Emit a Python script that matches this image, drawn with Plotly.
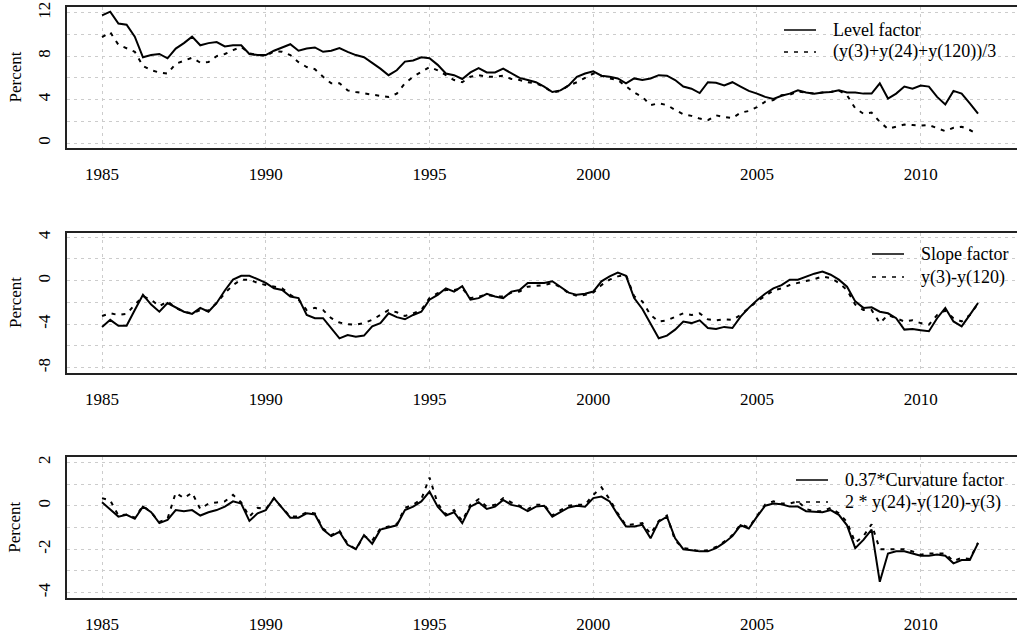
import plotly.graph_objects as go

# quarterly observation dates, 1985Q1 .. 2011Q4
dates = [1985 + q / 4 for q in range(108)]

level_factor = [
    11.75, 12.1, 11.0, 10.9, 9.8, 7.9, 8.1, 8.2, 7.8, 8.7, 9.2, 9.8,
    9.0, 9.2, 9.3, 8.9, 9.0, 9.0, 8.2, 8.1, 8.1, 8.5, 8.8, 9.1,
    8.5, 8.7, 8.8, 8.4, 8.5, 8.75, 8.4, 8.1, 7.9, 7.4, 6.85, 6.25,
    6.7, 7.5, 7.6, 7.9, 7.8, 7.2, 6.4, 6.25, 5.9, 6.5, 6.9, 6.5,
    6.5, 6.85, 6.4, 6.0, 5.8, 5.6, 5.2, 4.7, 4.85, 5.3, 6.1, 6.4,
    6.6, 6.2, 6.1, 5.95, 5.5, 5.95, 5.8, 5.95, 6.25, 6.2, 5.8, 5.2,
    5.0, 4.6, 5.6, 5.55, 5.3, 5.6, 5.2, 4.8, 4.55, 4.25, 4.05, 4.35,
    4.55, 4.85, 4.65, 4.55, 4.65, 4.7, 4.85, 4.65, 4.65, 4.55, 4.55, 5.5,
    4.1, 4.55, 5.2, 5.0, 5.3, 5.2, 4.25, 3.55, 4.8, 4.55, 3.65, 2.7,
]
level_avg = [
    9.75, 10.2, 9.05, 8.75, 8.4, 7.1, 6.7, 6.5, 6.4, 7.3, 7.6, 7.85,
    7.4, 7.45, 8.0, 8.2, 8.55, 8.85, 8.25, 8.1, 8.0, 8.45, 8.4, 8.1,
    7.45, 7.0, 6.8, 6.1, 5.5, 5.5, 4.85, 4.7, 4.55, 4.45, 4.35, 4.25,
    4.55, 5.5, 6.1, 6.55, 7.0, 6.7, 6.25, 5.8, 5.6, 6.1, 6.25, 6.1,
    6.1, 6.2, 5.9, 5.8, 5.6, 5.5, 5.2, 4.65, 4.8, 5.3, 5.6, 6.0,
    6.4, 6.2, 5.95, 5.8, 5.2, 4.65, 4.25, 3.5, 3.65, 3.5, 3.05, 2.65,
    2.5, 2.25, 2.1, 2.55, 2.4, 2.3, 2.8, 2.95, 3.3, 3.8, 3.95, 4.4,
    4.45, 4.75, 4.65, 4.55, 4.65, 4.7, 4.85, 4.4, 3.2, 2.7, 2.8, 1.95,
    1.3, 1.5, 1.7, 1.65, 1.6, 1.65, 1.35, 1.1, 1.4, 1.5, 1.2, 0.8,
]
slope_factor = [
    -4.25, -3.6, -4.15, -4.15, -2.7, -1.3, -2.2, -2.85, -2.05, -2.45, -2.85, -3.05,
    -2.5, -2.85, -2.05, -0.9, 0.1, 0.45, 0.45, 0.15, -0.2, -0.7, -0.85, -1.45,
    -1.6, -3.15, -3.45, -3.45, -4.35, -5.3, -5.0, -5.15, -5.05, -4.2, -3.9, -3.0,
    -3.35, -3.55, -3.15, -2.85, -1.75, -1.3, -0.7, -1.0, -0.5, -1.75, -1.6, -1.2,
    -1.45, -1.6, -1.0, -0.85, -0.2, -0.2, -0.2, -0.05, -0.55, -1.1, -1.3, -1.2,
    -1.0, -0.05, 0.4, 0.75, 0.45, -1.6, -2.6, -3.9, -5.3, -5.05, -4.5, -3.75,
    -3.9, -3.65, -4.35, -4.45, -4.25, -4.35, -3.3, -2.5, -1.8, -1.2, -0.7, -0.4,
    0.1, 0.1, 0.4, 0.65, 0.85, 0.55, 0.1, -0.55, -1.9, -2.5, -2.45, -2.85,
    -3.0, -3.45, -4.5, -4.45, -4.55, -4.65, -3.45, -2.5, -3.75, -4.2, -3.15, -2.05,
]
slope_spread = [
    -3.25, -3.0, -3.15, -3.05, -2.2, -1.45, -1.75, -2.35, -1.9, -2.5, -2.85, -3.0,
    -2.7, -2.75, -2.05, -1.15, -0.4, 0.1, 0.1, -0.2, -0.4, -0.55, -0.7, -1.3,
    -1.75, -2.7, -2.5, -2.7, -3.45, -3.85, -4.0, -4.05, -3.9, -3.6, -3.15, -2.7,
    -2.9, -3.25, -3.0, -2.7, -1.6, -1.15, -0.85, -0.85, -0.7, -1.6, -1.45, -1.3,
    -1.45, -1.45, -1.1, -1.0, -0.55, -0.5, -0.4, -0.2, -0.6, -1.15, -1.4, -1.3,
    -1.1, -0.4, 0.1, 0.4, 0.55, -1.45, -1.9, -3.15, -3.75, -3.65, -3.3, -3.0,
    -3.15, -3.0, -3.55, -3.65, -3.55, -3.6, -3.15, -2.5, -1.9, -1.4, -0.9, -0.7,
    -0.4, -0.2, -0.05, 0.15, 0.4, 0.25, -0.2, -0.85, -2.2, -2.7, -2.7, -3.9,
    -3.15, -3.45, -3.75, -3.65, -3.9, -4.05, -3.15, -2.75, -3.45, -3.75, -3.15, -2.1,
]
curv_factor = [
    0.16, -0.15, -0.5, -0.42, -0.6, -0.04, -0.3, -0.8, -0.65, -0.2, -0.25, -0.2,
    -0.45, -0.3, -0.2, -0.04, 0.2, 0.1, -0.7, -0.35, -0.2, 0.35, -0.1, -0.55,
    -0.55, -0.35, -0.4, -1.1, -1.4, -1.2, -1.8, -2.0, -1.35, -1.75, -1.1, -1.0,
    -0.9, -0.2, -0.04, 0.2, 0.65, -0.04, -0.45, -0.3, -0.8, -0.04, 0.16, -0.15,
    -0.04, 0.27, 0.04, -0.04, -0.25, -0.04, 0.0, -0.5, -0.3, -0.08, 0.0, -0.04,
    0.35, 0.42, 0.2, -0.42, -0.95, -0.95, -0.88, -1.5, -0.73, -0.5, -1.5, -2.0,
    -2.05, -2.1, -2.1, -1.95, -1.7, -1.4, -0.9, -1.05, -0.5, 0.0, 0.1, 0.07,
    -0.04, -0.04, -0.25, -0.27, -0.3, -0.2, -0.42, -0.9, -1.95, -1.57, -1.1, -3.5,
    -2.2, -2.1, -2.1, -2.2, -2.3, -2.3, -2.25, -2.3, -2.65, -2.5, -2.5, -1.72,
]
curv_spread = [
    0.35, 0.25, -0.45, -0.4, -0.55, 0.0, -0.3, -0.75, -0.6, 0.6, 0.35, 0.6,
    -0.15, 0.1, 0.15, 0.2, 0.5, 0.15, -0.5, -0.1, -0.15, 0.35, -0.1, -0.5,
    -0.5, -0.3, -0.35, -1.05, -1.35, -1.15, -1.75, -2.0, -1.4, -1.6, -1.05, -0.95,
    -0.85, -0.1, 0.05, 0.3, 1.3, 0.1, -0.4, -0.2, -0.7, 0.05, 0.3, -0.05,
    0.05, 0.35, 0.15, 0.0, -0.15, 0.05, 0.05, -0.45, -0.2, 0.0, 0.05, 0.05,
    0.5, 0.85, 0.3, -0.35, -0.9, -0.85, -0.8, -1.3, -0.7, -0.45, -1.6, -1.95,
    -2.0, -2.1, -2.05, -1.9, -1.65, -1.35, -0.85, -1.0, -0.45, 0.05, 0.2, 0.1,
    0.1, 0.2, -0.15, -0.25, -0.25, -0.1, -0.35, -0.75, -1.7, -1.4, -0.85, -2.0,
    -2.0, -2.0, -2.0, -2.1, -2.25, -2.2, -2.2, -2.2, -2.55, -2.4, -2.45, -1.7,
]

year_ticks = [1985, 1990, 1995, 2000, 2005, 2010]

panels = [
    dict(solid=level_factor, dashed=level_avg,
         names=["Level factor", "(y(3)+y(24)+y(120))/3"],
         grid=[0, 2, 4, 6, 8, 10, 12], labels=[0, 4, 8, 12],
         yrange=[-0.43, 12.5], top=7.3, bottom=147.7,
         leg_x=784, leg_rows=[30, 52]),
    dict(solid=slope_factor, dashed=slope_spread,
         names=["Slope factor", "y(3)-y(120)"],
         grid=[-8, -6, -4, -2, 0, 2, 4], labels=[-8, -4, 0, 4],
         yrange=[-8.52, 4.42], top=232.7, bottom=373.3,
         leg_x=872, leg_rows=[254, 277]),
    dict(solid=curv_factor, dashed=curv_spread,
         names=["0.37*Curvature factor", "2 * y(24)-y(120)-y(3)"],
         grid=[-4, -3, -2, -1, 0, 1, 2], labels=[-4, -2, 0, 2],
         yrange=[-4.26, 2.23], top=457.3, bottom=598.3,
         leg_x=796, leg_rows=[480, 502]),
]

W, H = 1017, 639
FONT = "Liberation Serif"
FS = 17
LFS = 18
AX = "#222222"
GRID = "#cccccc"
DASH = "4px,6px"

fig = go.Figure()
layout = dict(
    width=W, height=H, margin=dict(l=0, r=0, t=0, b=0, pad=0),
    paper_bgcolor="white", plot_bgcolor="white",
    font=dict(family=FONT, size=FS, color="black"),
    showlegend=False, annotations=[], shapes=[],
)

for i, p in enumerate(panels, start=1):
    sfx = "" if i == 1 else str(i)
    fig.add_trace(go.Scatter(x=dates, y=p["solid"], mode="lines", name=p["names"][0],
                             line=dict(color="black", width=2),
                             xaxis="x" + sfx, yaxis="y" + sfx))
    fig.add_trace(go.Scatter(x=dates, y=p["dashed"], mode="lines", name=p["names"][1],
                             line=dict(color="black", width=2, dash=DASH),
                             xaxis="x" + sfx, yaxis="y" + sfx))
    d0 = 1 - p["bottom"] / H
    d1 = 1 - p["top"] / H
    layout["xaxis" + sfx] = dict(
        domain=[67 / W, 1], range=[1983.93, 2012.94], anchor="y" + sfx,
        tickvals=year_ticks, ticktext=[str(y) for y in year_ticks],
        showline=True, linecolor=AX, linewidth=1.5, mirror=True,
        showgrid=True, gridcolor=GRID, gridwidth=1, griddash="3px,4px",
        ticks="", ticklabelstandoff=10, zeroline=False, automargin=False,
        tickfont=dict(family=FONT, size=FS, color="black"),
    )
    layout["yaxis" + sfx] = dict(
        domain=[d0, d1], range=p["yrange"], anchor="x" + sfx,
        tickvals=p["grid"],
        ticktext=[str(v) if v in p["labels"] else "" for v in p["grid"]],
        tickangle=-90, showline=True, linecolor=AX, linewidth=1.5, mirror=False,
        showgrid=True, gridcolor=GRID, gridwidth=1, griddash="3px,4px",
        ticks="", ticklabelstandoff=8, zeroline=False, automargin=False,
        tickfont=dict(family=FONT, size=FS, color="black"),
    )
    layout["annotations"].append(dict(
        text="Percent", xref="paper", yref="paper", x=15 / W,
        y=(d0 + d1) / 2, xanchor="center", yanchor="middle",
        textangle=-90, showarrow=False,
        font=dict(family=FONT, size=FS, color="black"),
    ))
    # legend (top right of each panel)
    for name, ry, dash in zip(p["names"], p["leg_rows"], ["solid", DASH]):
        yp = 1 - ry / H
        layout["shapes"].append(dict(
            type="line", xref="paper", yref="paper",
            x0=p["leg_x"] / W, x1=(p["leg_x"] + 32) / W, y0=yp, y1=yp,
            line=dict(color="black", width=1.5, dash=dash),
        ))
        layout["annotations"].append(dict(
            text=name, xref="paper", yref="paper", x=(p["leg_x"] + 47) / W,
            y=yp, xanchor="left", yanchor="middle", showarrow=False,
            font=dict(family=FONT, size=LFS, color="black"),
        ))

fig.update_layout(**layout)
fig.write_html("out.html", config={"displayModeBar": False},
               post_script="document.body.style.margin='0';document.body.style.overflow='hidden';")
